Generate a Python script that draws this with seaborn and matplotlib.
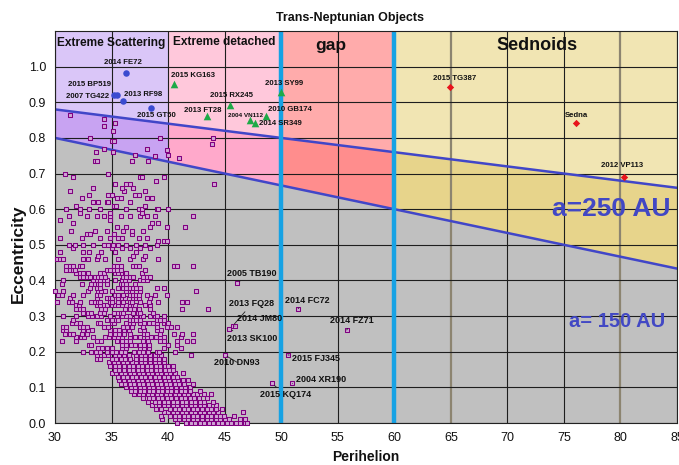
import numpy as np
import pandas as pd
import matplotlib
matplotlib.use("Agg")
import matplotlib.pyplot as plt
import seaborn as sns

sns.set_style("white")
plt.rcParams['font.family'] = ['Liberation Sans', 'DejaVu Sans']

# ---------------- data ----------------
region_names = ["Extreme Scattering", "Extreme detached", "gap", "Sednoids"]
region_q = [(30, 40), (40, 50), (50, 60), (60, 85)]
region_upper_colors = ['#DAC6F8', '#FFC8DB', '#FFABAB', '#F1E5B3']
region_mid_colors = ['#C8A3F2', '#FFA9CB', '#FF8D8D', '#E7D48B']
semi_major = [250, 150]
semi_major_labels = ["a=250 AU", "a= 150 AU"]

x_ticks = [30, 35, 40, 45, 50, 55, 60, 65, 70, 75, 80, 85]
y_ticks = [0.0, 0.1, 0.2, 0.3, 0.4, 0.5, 0.6, 0.7, 0.8, 0.9, 1.0]

# background TNO population: eccentricity rows and perihelia in each row
kb_ecc = [0.00, 0.01, 0.02, 0.03, 0.04, 0.05, 0.06, 0.07, 0.08, 0.09,
          0.10, 0.11, 0.12, 0.13, 0.14, 0.15, 0.16, 0.17, 0.18, 0.19,
          0.20, 0.21, 0.22, 0.23, 0.24, 0.25, 0.26, 0.27, 0.28, 0.29,
          0.30, 0.31, 0.32, 0.33, 0.34, 0.35, 0.36, 0.37, 0.38, 0.39,
          0.40, 0.41, 0.42, 0.43, 0.44, 0.46, 0.47, 0.48, 0.49, 0.50,
          0.51, 0.52, 0.53, 0.54, 0.55, 0.56, 0.57, 0.58, 0.59, 0.60,
          0.61, 0.62, 0.63, 0.64, 0.65, 0.66, 0.67, 0.68, 0.69, 0.70]
kb_peri = [
    [40.8, 41.6, 42.0, 42.4, 42.8, 43.2, 43.6, 44.0, 44.4, 44.8, 45.2, 45.6, 46.0, 46.4, 46.8, 47.0],
    [39.5, 40.6, 41.0, 41.4, 41.8, 42.2, 42.6, 43.0, 43.4, 43.8, 44.2, 44.6, 45.0, 45.4, 46.4, 46.8],
    [39.4, 40.2, 40.6, 41.0, 41.4, 41.8, 42.2, 42.6, 43.0, 43.4, 43.8, 44.2, 44.6, 44.9, 45.8],
    [39.6, 40.0, 40.4, 40.8, 41.2, 41.6, 42.0, 42.4, 42.8, 43.2, 43.6, 44.0, 44.4, 46.6],
    [38.9, 39.4, 40.2, 40.6, 41.0, 41.4, 41.8, 42.2, 42.6, 43.0, 43.4, 43.8, 44.2, 44.8],
    [38.6, 39.2, 39.6, 40.0, 40.4, 40.8, 41.2, 41.6, 42.0, 42.4, 42.8, 43.2, 43.6, 44.2],
    [38.2, 38.8, 39.2, 39.6, 40.0, 40.4, 40.8, 41.2, 41.6, 42.0, 42.4, 42.8, 43.2, 44.0],
    [37.8, 38.3, 38.7, 39.1, 39.5, 39.9, 40.3, 40.7, 41.1, 41.5, 41.9, 42.3, 42.7, 43.4],
    [37.0, 37.4, 37.8, 38.2, 38.6, 39.0, 39.4, 39.8, 40.2, 40.6, 41.0, 41.4, 41.8, 42.2, 42.6, 43.2, 43.8],
    [36.7, 37.1, 37.5, 37.9, 38.3, 38.7, 39.1, 39.5, 39.9, 40.3, 40.7, 41.1, 41.5, 41.9, 42.8],
    [36.3, 36.7, 37.1, 37.5, 37.9, 38.3, 38.7, 39.1, 39.5, 39.9, 40.3, 40.7, 41.1, 41.5, 41.9],
    [35.8, 36.2, 36.6, 37.0, 37.4, 37.8, 38.2, 38.6, 39.0, 39.4, 39.8, 40.2, 40.6, 41.0, 41.4, 42.2],
    [35.7, 36.1, 36.5, 36.9, 37.3, 37.7, 38.1, 38.5, 38.9, 39.3, 39.7, 40.1, 40.5, 40.9, 41.3, 41.8],
    [35.6, 36.0, 36.4, 36.8, 37.2, 37.6, 38.0, 38.4, 38.8, 39.2, 39.6, 40.0, 40.4, 40.8],
    [35.0, 35.4, 35.8, 36.2, 36.6, 37.0, 37.4, 37.8, 38.2, 38.6, 39.0, 39.4, 39.8, 40.2, 40.6, 41.3],
    [35.3, 35.7, 36.1, 36.5, 36.9, 37.3, 37.7, 38.1, 38.5, 38.9, 39.3, 39.7, 40.1, 40.4],
    [34.9, 35.3, 35.7, 36.1, 36.5, 36.9, 37.3, 37.7, 38.1, 38.5, 38.9, 39.3, 39.7, 40.0, 40.4],
    [34.8, 35.2, 35.6, 36.0, 36.4, 36.8, 37.2, 37.6, 38.0, 38.4, 38.8, 39.2, 39.6],
    [33.7, 34.0, 35.0, 35.4, 35.8, 36.2, 36.6, 37.2, 37.6, 38.0, 38.4, 38.8, 39.2, 39.6],
    [33.7, 34.3, 34.7, 35.3, 35.7, 36.1, 36.5, 37.2, 37.6, 38.0, 38.4, 38.8, 39.4, 42.0],
    [32.5, 33.2, 33.6, 34.0, 34.6, 35.0, 35.4, 35.8, 36.2, 37.0, 37.4, 37.8, 38.2, 39.0, 39.2, 40.6],
    [33.8, 34.2, 34.6, 35.0, 35.9, 36.3, 37.5, 37.9, 38.3, 39.6, 41.1],
    [33.0, 33.2, 35.9, 36.3, 36.7, 37.1, 37.5, 37.9, 38.3, 40.0, 40.8],
    [30.6, 31.9, 33.7, 34.1, 35.5, 35.9, 36.3, 36.6, 37.8, 38.2, 39.3, 39.6, 40.8, 41.7, 42.2],
    [31.9, 32.3, 32.6, 33.4, 34.4, 34.8, 35.2, 35.6, 35.9, 36.6, 37.1, 37.5, 38.1, 38.5, 38.9, 39.3, 39.6, 41.1],
    [30.9, 31.3, 31.6, 32.4, 32.8, 34.9, 35.3, 35.7, 36.1, 36.6, 37.9, 38.1, 39.3, 40.5, 41.2, 42.2],
    [30.7, 31.0, 32.5, 32.9, 33.3, 34.9, 35.3, 35.7, 36.1, 36.5, 37.5, 37.9, 39.0, 39.4],
    [30.7, 31.0, 32.2, 32.5, 32.8, 34.3, 34.7, 36.0, 36.4, 36.8, 37.8, 39.0, 39.9, 40.3, 40.8],
    [31.5, 31.9, 32.2, 33.8, 34.0, 35.0, 35.2, 36.3, 36.6, 36.9, 37.5, 37.9, 38.3, 38.7, 39.0, 39.6, 39.9, 40.0],
    [31.6, 34.6, 35.0, 35.4, 35.6, 36.6, 36.9, 37.2, 37.5, 39.0, 39.3, 39.6],
    [30.7, 31.9, 32.9, 33.3, 33.7, 34.1, 34.9, 35.5, 35.9, 36.3, 36.6, 37.2, 37.6, 37.8, 38.4, 38.8, 39.0, 39.6],
    [32.5, 32.9, 33.2, 34.0, 34.3, 35.2, 35.6, 35.8, 36.0, 36.9, 37.3, 37.5, 38.7],
    [31.9, 32.2, 32.5, 34.1, 34.4, 36.2, 36.6, 37.0, 37.4, 38.4, 41.2, 43.5],
    [31.9, 32.1, 33.7, 34.0, 34.3, 34.6, 35.0, 35.3, 35.6, 35.9, 36.3, 36.6, 36.9, 37.1, 38.0, 38.4],
    [30.2, 31.2, 31.5, 32.2, 33.2, 33.5, 33.8, 34.0, 34.9, 35.0, 35.6, 35.9, 36.0, 36.6, 36.8, 37.5, 38.3, 39.1, 41.2, 41.7],
    [31.3, 33.7, 34.6, 34.9, 35.0, 35.6, 35.9, 36.2, 36.9, 37.2, 37.4, 38.4],
    [30.3, 30.6, 31.6, 32.5, 33.7, 34.0, 35.3, 35.6, 35.9, 36.0, 36.6, 36.9, 37.2, 37.4, 38.1, 38.8, 39.9],
    [30.0, 30.7, 32.9, 33.8, 34.1, 34.4, 35.0, 36.3, 36.8, 37.5, 42.5],
    [33.1, 33.7, 34.0, 35.6, 35.9, 36.0, 36.3, 36.6, 36.9, 37.2, 37.5, 39.0, 39.6],
    [30.6, 32.4, 33.2, 33.5, 33.8, 34.0, 34.6, 35.8, 36.0, 36.3, 37.1],
    [30.7, 33.4, 33.7, 34.0, 34.3, 34.6, 35.3, 35.9, 36.2, 36.5, 37.5, 37.8, 38.1],
    [32.2, 32.5, 32.8, 33.1, 33.5, 33.8, 34.1, 34.4, 36.0, 36.3, 36.6, 36.9, 37.8, 38.1, 38.4],
    [31.9, 32.2, 32.5, 32.9, 34.0, 34.3, 35.3, 35.6, 35.9, 36.2, 36.3, 37.7],
    [31.0, 31.3, 31.6, 31.8, 34.6, 34.9, 35.2, 35.5, 35.8, 38.0],
    [31.0, 31.3, 31.6, 32.2, 32.4, 35.2, 35.5, 35.8, 36.9, 37.2, 37.4, 40.5, 40.8, 42.2],
    [30.2, 30.4, 30.7, 32.5, 32.9, 33.7, 34.4, 35.6, 36.6, 37.8, 39.1],
    [33.8, 36.9, 38.0],
    [30.4, 32.5, 33.0, 34.1, 35.3, 37.2],
    [31.6, 35.0, 35.9, 36.6, 37.5, 38.4],
    [31.2, 31.8, 32.5, 33.4, 34.3, 34.7, 35.1, 35.6, 36.3, 37.2, 38.0, 39.0],
    [39.1, 39.6, 39.9],
    [30.4, 32.4, 34.0, 34.9, 35.6, 35.9, 37.4, 38.1],
    [32.8, 33.1, 35.2, 36.8],
    [31.4, 33.5, 34.6, 36.0, 36.8, 37.8],
    [35.5, 36.3, 38.4, 39.9, 41.5],
    [31.6, 38.6, 39.1],
    [30.4, 34.9],
    [31.2, 32.8, 33.7, 34.3, 34.9, 35.8, 36.6, 37.5, 38.1, 38.8, 42.2],
    [32.2, 34.9, 37.7],
    [31.0, 32.2, 33.0, 34.0, 36.3, 37.4, 37.7, 39.0, 39.1, 40.0],
    [31.9, 35.2, 35.4, 38.0],
    [33.4, 33.8, 34.6, 34.7, 36.6],
    [32.4, 35.5, 35.8, 38.1, 38.6],
    [33.0, 34.7, 35.0, 37.1, 37.4],
    [31.3, 36.1, 38.0],
    [33.4, 35.9, 36.9],
    [35.3, 36.3, 36.6, 44.1],
    [38.9],
    [31.6, 37.5, 37.7, 39.6],
    [30.9, 34.7],
]
# sparse high-eccentricity background objects
hi_peri = [31.3, 34.3, 34.3, 35.3, 35.1, 33.1, 35.0, 35.2, 33.6, 34.3, 35.1, 37.1,
           38.1, 38.8, 39.3, 39.9, 40.0, 41.0, 38.2, 36.8, 33.5, 33.7, 44.0, 43.9]
hi_ecc = [0.865, 0.853, 0.833, 0.843, 0.820, 0.800, 0.790, 0.790, 0.760, 0.770, 0.760, 0.753,
          0.770, 0.750, 0.800, 0.765, 0.753, 0.743, 0.734, 0.734, 0.734, 0.734, 0.800, 0.784]

# labelled background objects (with leader lines)
gray_names = ["2005 TB190", "2013 FQ28", "2014 JM80", "2013 SK100", "2014 FC72",
              "2014 FZ71", "2010 DN93", "2015 FJ345", "2004 XR190", "2015 KQ174"]
gray_q = [46.1, 45.7, 45.9, 45.4, 51.5, 55.8, 45.0, 50.6, 51.0, 49.2]
gray_e = [0.392, 0.272, 0.272, 0.263, 0.321, 0.261, 0.191, 0.191, 0.111, 0.111]
gray_lq = [45.2, 45.4, 46.1, 45.2, 50.3, 54.3, 44.1, 51.0, 51.3, 48.1]
gray_le = [0.419, 0.334, 0.294, 0.237, 0.345, 0.287, 0.170, 0.182, 0.121, 0.079]

# extreme scattering objects
es_names = ["2014 FE72", "2015 BP519", "2007 TG422", "2013 RF98", "2015 GT50"]
es_q = [36.3, 35.5, 35.2, 36.0, 38.5]
es_e = [0.982, 0.921, 0.921, 0.903, 0.884]
es_lq = [34.3, 31.15, 30.97, 36.1, 37.25]
es_le = [1.012, 0.949, 0.917, 0.921, 0.862]

# extreme detached objects
ed_names = ["2015 KG163", "2015 RX245", "2013 FT28", "2004 VN112", "2014 SR349", "2010 GB174", "2013 SY99"]
ed_q = [40.5, 45.5, 43.4, 47.2, 47.7, 48.7, 50.0]
ed_e = [0.951, 0.891, 0.862, 0.849, 0.842, 0.862, 0.929]
ed_lq = [40.26, 43.7, 41.4, 45.3, 48.06, 48.83, 48.57]
ed_le = [0.975, 0.919, 0.877, 0.862, 0.840, 0.879, 0.952]

# sednoids
sd_names = ["2015 TG387", "Sedna", "2012 VP113"]
sd_q = [64.9, 76.1, 80.3]
sd_e = [0.943, 0.842, 0.690]
sd_lq = [63.4, 75.1, 78.25]
sd_le = [0.966, 0.862, 0.722]

# ---------------- figure ----------------
fig = plt.figure(figsize=(6.79, 4.65), dpi=100)
ax = fig.add_axes([55 / 679, 1 - 423 / 465, 622 / 679, 392 / 465])
ax.set_facecolor('#C0C0C0')
ax.set_xlim(30, 85)
ax.set_ylim(0, 1.1)

for (q0, q1), cu, cm in zip(region_q, region_upper_colors, region_mid_colors):
    qs = np.array([q0, q1], dtype=float)
    ax.fill_between(qs, 1 - qs / semi_major[0], 1.1, color=cu, lw=0, zorder=0)
    ax.fill_between(qs, 1 - qs / semi_major[1], 1 - qs / semi_major[0], color=cm, lw=0, zorder=0)

# grid
for xt in x_ticks:
    if xt in (65, 80):
        ax.axvline(xt, color='#8C8470', lw=1.6, zorder=1)
    else:
        ax.axvline(xt, color='#1E1E1E', lw=0.8, zorder=1)
for yt in y_ticks:
    ax.axhline(yt, color='#1E1E1E', lw=0.8, zorder=1)

# semi-major axis lines
ql = np.array([30.0, 85.0])
for a in semi_major:
    ax.plot(ql, 1 - ql / a, color='#4146C8', lw=1.8, zorder=2)

# gap boundaries
for xv in (50, 60):
    ax.axvline(xv, color='#16A2E4', lw=3.2, zorder=2)

# background population
rows = []
for e, qs in zip(kb_ecc, kb_peri):
    for q in qs:
        rows.append((q, e))
for q, e in zip(hi_peri, hi_ecc):
    rows.append((q, e))
for q, e in zip(gray_q, gray_e):
    rows.append((q, e))
bg = pd.DataFrame(rows, columns=['Perihelion', 'Eccentricity'])
sns.scatterplot(data=bg, x='Perihelion', y='Eccentricity', ax=ax, marker='s', s=11,
                color='#CFA6D4', edgecolor='#800080', linewidth=0.75, zorder=3, clip_on=False)

es_df = pd.DataFrame({'q': es_q, 'e': es_e})
sns.scatterplot(data=es_df, x='q', y='e', ax=ax, marker='o', s=22, color='#3A4BD0',
                edgecolor='#3A4BD0', linewidth=0, zorder=4)
ed_df = pd.DataFrame({'q': ed_q, 'e': ed_e})
sns.scatterplot(data=ed_df, x='q', y='e', ax=ax, marker='^', s=30, color='#1DAA48',
                edgecolor='#1DAA48', linewidth=0, zorder=4)
sd_df = pd.DataFrame({'q': sd_q, 'e': sd_e})
sns.scatterplot(data=sd_df, x='q', y='e', ax=ax, marker='D', s=14, color='#E8141C',
                edgecolor='#E8141C', linewidth=0, zorder=4)

# labels
for n, q, e, lq, le in zip(gray_names, gray_q, gray_e, gray_lq, gray_le):
    ax.annotate(n, xy=(q, e), xytext=(lq, le), fontsize=6.5, fontweight='bold',
                ha='left', va='center', color='#111111', zorder=5,
                arrowprops=dict(arrowstyle='-', color='#222222', lw=0.6,
                                shrinkA=0, shrinkB=2))
for names, lqs, les in ((es_names, es_lq, es_le), (ed_names, ed_lq, ed_le), (sd_names, sd_lq, sd_le)):
    for n, lq, le in zip(names, lqs, les):
        fs = 4.6 if n == "2004 VN112" else 5.6
        ax.text(lq, le, n, fontsize=fs, fontweight='bold', ha='left', va='center',
                color='#111111', zorder=5)

region_label_pos = [(35.0, 1.066, 8.6), (44.95, 1.068, 8.6), (54.4, 1.058, 12.5), (72.6, 1.058, 13)]
for name, (xq, ye, fs) in zip(region_names, region_label_pos):
    ax.text(xq, ye, name, fontsize=fs, fontweight='bold', ha='center', va='center',
            color='#111111', zorder=5)

ax.text(79.2, 0.60, semi_major_labels[0], fontsize=19, fontweight='bold', ha='center',
        va='center', color='#4248C4', zorder=5)
ax.text(79.7, 0.284, semi_major_labels[1], fontsize=14.5, fontweight='bold', ha='center',
        va='center', color='#4248C4', zorder=5)

# axes styling
ax.set_xticks(x_ticks)
ax.set_xticklabels([str(t) for t in x_ticks])
ax.set_yticks(y_ticks)
ax.set_yticklabels([f"{t:.1f}" for t in y_ticks])
ax.tick_params(axis='both', direction='inout', length=5, width=0.8, labelsize=9,
               colors='#111111', pad=4)
ax.set_xlabel('')
ax.set_ylabel('')
for sp in ax.spines.values():
    sp.set_color('#222222')
    sp.set_linewidth(0.8)
    sp.set_visible(True)

fig.text(350 / 679, 1 - 18 / 465, "Trans-Neptunian Objects", fontsize=9, fontweight='bold',
         ha='center', va='center', color='#111111')
fig.text(366 / 679, 1 - 457 / 465, "Perihelion", fontsize=10, fontweight='bold',
         ha='center', va='center', color='#111111')
fig.text(18 / 679, 1 - 254 / 465, "Eccentricity", fontsize=12.5, fontweight='bold',
         ha='center', va='center', rotation=90, color='#111111')

fig.savefig('out.png', dpi=100)
